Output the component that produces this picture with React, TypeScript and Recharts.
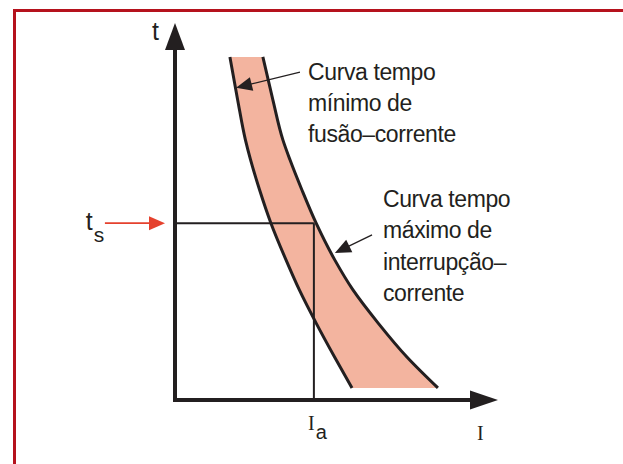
import React from "react";
import {
  ComposedChart,
  Area,
  Line,
  XAxis,
  YAxis,
  ReferenceLine,
  ReferenceDot,
} from "recharts";

// tempo t (ascending) and the current bounds of the band at each t
const T_VALUES = [3.2, 11.4, 20.4, 29.2, 37.1, 46.9, 55.7, 63.7, 69.0, 79.6, 91.0];
const I_MIN_FUSAO = [54.8, 49.4, 43.7, 38.5, 34.4, 29.7, 26.2, 23.4, 21.8, 19.4, 17.0];
const I_MAX_INTERRUPCAO = [81.4, 71.8, 62.9, 55.1, 49.5, 43.7, 39.3, 35.6, 33.4, 30.3, 27.2];

// operating point
const T_S = 46.9;
const I_A = 43.0;

const LABEL_MIN = ["Curva tempo", "mínimo de", "fusão–corrente"];
const LABEL_MAX = ["Curva tempo", "máximo de", "interrupção–", "corrente"];

const INK = "#231f20";
const BAND = "#f3b49f";
const RED = "#e5412d";
const SANS = "'Liberation Sans', Arial, sans-serif";
const SERIF = "'Liberation Serif', 'Times New Roman', serif";

const rows = T_VALUES.map((t, i) => ({
  t,
  lo: I_MIN_FUSAO[i],
  hi: I_MAX_INTERRUPCAO[i],
}));

// line with a filled triangular head at its end point
const arrow =
  (color: string, width: number, headLen: number, headHalf: number, cap: "butt" | "square" = "butt") =>
  (p: any) => {
    const { x1, y1, x2, y2 } = p;
    const dx = x2 - x1;
    const dy = y2 - y1;
    const len = Math.hypot(dx, dy) || 1;
    const ux = dx / len;
    const uy = dy / len;
    const bx = x2 - ux * headLen;
    const by = y2 - uy * headLen;
    const nx = -uy * headHalf;
    const ny = ux * headHalf;
    return (
      <g>
        <line
          x1={x1}
          y1={y1}
          x2={bx + ux}
          y2={by + uy}
          stroke={color}
          strokeWidth={width}
          strokeLinecap={cap}
        />
        <polygon
          points={`${x2},${y2} ${bx + nx},${by + ny} ${bx - nx},${by - ny}`}
          fill={color}
        />
      </g>
    );
  };

const plainLine = (color: string, width: number) => (p: any) =>
  <line x1={p.x1} y1={p.y1} x2={p.x2} y2={p.y2} stroke={color} strokeWidth={width} />;

const textBlock = (lines: string[], size: number, lineHeight: number) => (p: any) =>
  (
    <text
      x={p.cx}
      y={p.cy}
      fill={INK}
      fontFamily={SANS}
      fontSize={size}
      letterSpacing={-0.4}
    >
      {lines.map((l, i) => (
        <tspan key={i} x={p.cx} dy={i === 0 ? 0 : lineHeight}>
          {l}
        </tspan>
      ))}
    </text>
  );

const subscripted =
  (main: string, sub: string, mainFamily: string, mainSize: number, subSize: number, drop: number) =>
  (p: any) =>
    (
      <text x={p.cx} y={p.cy} fill={INK}>
        <tspan fontFamily={mainFamily} fontSize={mainSize}>
          {main}
        </tspan>
        {sub ? (
          <tspan fontFamily={SANS} fontSize={subSize} dy={drop} dx={1}>
            {sub}
          </tspan>
        ) : null}
      </text>
    );

export default function App() {
  return (
    <div
      style={{
        position: "fixed",
        left: 0,
        top: 0,
        width: 623,
        height: 464,
        background: "#fff",
        overflow: "hidden",
      }}
    >
      <div
        style={{
          position: "absolute",
          left: 13,
          top: 9,
          right: -10,
          bottom: -10,
          borderTop: "3px solid #b5121d",
          borderLeft: "3px solid #b5121d",
        }}
      />
      <div style={{ position: "absolute", left: 0, top: 0 }}>
        <ComposedChart
          width={623}
          height={464}
          layout="vertical"
          data={rows}
          margin={{ top: 23, right: 125, bottom: 64, left: 175 }}
        >
          <XAxis type="number" domain={[0, 100]} hide />
          <YAxis type="number" dataKey="t" domain={[0, 100]} reversed hide />

          <Area
            dataKey={(r: any) => [r.lo, r.hi]}
            type="monotone"
            fill={BAND}
            fillOpacity={1}
            stroke="none"
            isAnimationActive={false}
          />
          <Line
            dataKey="lo"
            type="monotone"
            stroke={INK}
            strokeWidth={3}
            dot={false}
            activeDot={false}
            isAnimationActive={false}
          />
          <Line
            dataKey="hi"
            type="monotone"
            stroke={INK}
            strokeWidth={3}
            dot={false}
            activeDot={false}
            isAnimationActive={false}
          />

          {/* t_s / I_a guide lines */}
          <ReferenceLine
            segment={[{ x: 0, y: T_S }, { x: I_A, y: T_S }]}
            ifOverflow="visible"
            shape={plainLine(INK, 2)}
          />
          <ReferenceLine
            segment={[{ x: I_A, y: 0 }, { x: I_A, y: T_S }]}
            ifOverflow="visible"
            shape={plainLine(INK, 2)}
          />

          {/* axes with arrow heads */}
          <ReferenceLine
            segment={[{ x: 0, y: 0 }, { x: 0, y: 100 }]}
            ifOverflow="visible"
            shape={arrow(INK, 4, 27, 10, "square")}
          />
          <ReferenceLine
            segment={[{ x: 0, y: 0 }, { x: 100, y: 0 }]}
            ifOverflow="visible"
            shape={arrow(INK, 4, 28, 9.5, "square")}
          />

          {/* t_s marker */}
          <ReferenceLine
            segment={[{ x: -21.7, y: T_S }, { x: -3.1, y: T_S }]}
            ifOverflow="visible"
            shape={arrow(RED, 1.8, 16, 7)}
          />

          {/* callout arrows */}
          <ReferenceLine
            segment={[{ x: 38.7, y: 87.0 }, { x: 18.9, y: 82.8 }]}
            ifOverflow="visible"
            shape={arrow(INK, 1.3, 16, 7)}
          />
          <ReferenceLine
            segment={[{ x: 61.0, y: 43.8 }, { x: 49.5, y: 39.0 }]}
            ifOverflow="visible"
            shape={arrow(INK, 1.3, 16, 7)}
          />

          {/* labels */}
          <ReferenceDot x={-7.1} y={95.5} r={0} ifOverflow="visible" shape={subscripted("t", "", SANS, 25, 0, 0)} />
          <ReferenceDot x={-27.6} y={45.1} r={0} ifOverflow="visible" shape={subscripted("t", "s", SANS, 25, 21, 12)} />
          <ReferenceDot x={41.2} y={-8.0} r={0} ifOverflow="visible" shape={subscripted("I", "a", SERIF, 20, 20, 9)} />
          <ReferenceDot x={93.5} y={-10.6} r={0} ifOverflow="visible" shape={subscripted("I", "", SERIF, 20, 0, 0)} />
          <ReferenceDot x={41.2} y={84.9} r={0} ifOverflow="visible" shape={textBlock(LABEL_MIN, 23, 31)} />
          <ReferenceDot x={64.4} y={51.2} r={0} ifOverflow="visible" shape={textBlock(LABEL_MAX, 23, 31.3)} />
        </ComposedChart>
      </div>
    </div>
  );
}
